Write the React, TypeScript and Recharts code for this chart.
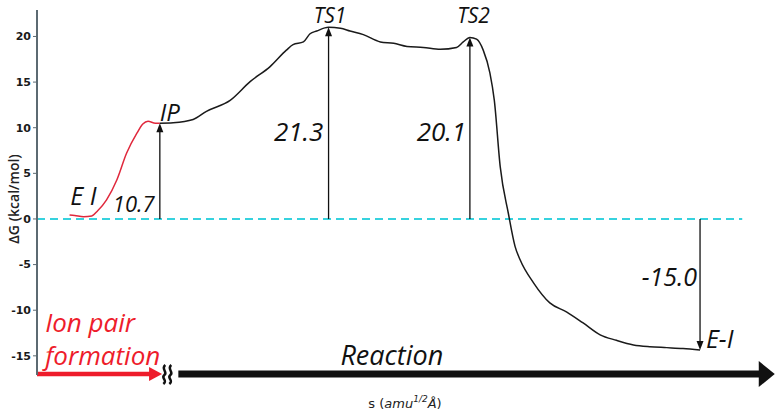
import {
  ComposedChart,
  Line,
  XAxis,
  YAxis,
  ReferenceLine,
  ReferenceDot,
  Label
} from 'recharts'

// reaction coordinate s (arbitrary units, 0..100) and ΔG in kcal/mol
const ionPairS = [4.4, 5.1, 6.3, 7.4, 8.2, 9.4, 10.8, 12.1, 13.5, 14.3, 15.0, 16.0, 16.6]
const ionPairG = [0.44, 0.38, 0.25, 0.33, 0.9, 2.1, 4.3, 7.2, 9.4, 10.4, 10.7, 10.5, 10.5]

const reactionS = [
  16.6, 18.4, 21.1, 22.9, 26.1, 28.8, 31.5, 33.7, 34.6, 36.0, 36.9, 37.8, 39.4, 41.0,
  42.3, 44.1, 46.4, 48.2, 50.0, 52.2, 54.5, 56.7, 57.6, 58.5, 59.4, 60.3, 61.2, 61.8,
  62.6, 63.7, 64.6, 65.3, 67.1, 69.3, 71.6, 73.8, 76.1, 78.3, 80.6, 82.8, 85.1, 87.3, 89.6
]
const reactionG = [
  10.5, 10.55, 10.9, 11.8, 13.0, 15.05, 16.7, 18.5, 19.1, 19.4, 20.3, 20.6, 21.0, 20.9,
  20.6, 20.2, 19.4, 19.25, 18.9, 18.8, 18.6, 18.8, 19.4, 19.9, 19.7, 18.5, 16.0, 13.0,
  5.7, 0.6, -3.0, -4.5, -7.0, -9.2, -10.2, -11.4, -12.7, -13.3, -13.8, -14.0, -14.1, -14.2, -14.35
]

const yTicks = [-15, -10, -5, 0, 5, 10, 15, 20]

// energy arrows from the zero line to each stationary point
const arrowS = [16.6, 39.4, 58.5, 89.6]
const arrowG = [10.5, 21.0, 19.9, -14.35]
const arrowLabels = ['10.7', '21.3', '20.1', '-15.0']

const stateLabels = ['E I', 'IP', 'TS1', 'TS2', 'E-I']

const ionPairData = ionPairS.map((s, i) => ({ s, g: ionPairG[i] }))
const reactionData = reactionS.map((s, i) => ({ s, g: reactionG[i] }))

const FONT = '"Open Sans", sans-serif'
const RED = '#ee1c2b'

// where the text sits (s, ΔG of baseline), anchor, size
const stateLabelPos = [
  { s: 4.5, g: 1.5, anchor: 'start', size: 25 },
  { s: 16.6, g: 10.7, anchor: 'start', size: 24 },
  { s: 39.6, g: 21.5, anchor: 'middle', size: 21 },
  { s: 59.0, g: 21.5, anchor: 'middle', size: 21 },
  { s: 90.4, g: -14.15, anchor: 'start', size: 25 }
]
const arrowLabelPos = [
  { s: 15.9, g: 0.8, size: 22 },
  { s: 38.7, g: 8.5, size: 26 },
  { s: 58.0, g: 8.5, size: 26 },
  { s: 89.2, g: -7.4, size: 25 }
]

function VArrow(props: any) {
  const { x1, y1, x2, y2 } = props
  const d = y2 < y1 ? 1 : -1
  return (
    <g>
      <line x1={x1} y1={y1} x2={x2} y2={y2 + d * 6} stroke="#111" strokeWidth={1.3} />
      <polygon
        points={`${x2},${y2} ${x2 - 3.5},${y2 + d * 9} ${x2 + 3.5},${y2 + d * 9}`}
        fill="#111"
      />
    </g>
  )
}

function RedArrow(props: any) {
  const { x1, y1, x2 } = props
  return (
    <g>
      <line x1={x1} y1={y1} x2={x2 - 10} y2={y1} stroke={RED} strokeWidth={4.5} />
      <polygon points={`${x2},${y1} ${x2 - 13},${y1 - 7} ${x2 - 13},${y1 + 7}`} fill={RED} />
    </g>
  )
}

function BlackArrow(props: any) {
  const { x1, y1, x2 } = props
  const squiggle = (x: number) =>
    `M${x + 2},${y1 - 9} C${x - 3},${y1 - 5} ${x + 5},${y1 - 2} ${x + 1},${y1 + 1} ` +
    `C${x - 3},${y1 + 4} ${x + 5},${y1 + 6} ${x},${y1 + 10}`
  return (
    <g>
      <path d={squiggle(x1 - 15)} stroke="#111" strokeWidth={2.5} fill="none" />
      <path d={squiggle(x1 - 9)} stroke="#111" strokeWidth={2.5} fill="none" />
      <line x1={x1} y1={y1} x2={x2 - 12} y2={y1} stroke="#111" strokeWidth={7} />
      <polygon points={`${x2},${y1} ${x2 - 16},${y1 - 13} ${x2 - 16},${y1 + 13}`} fill="#111" />
    </g>
  )
}

function textShape(text: string, anchor: string, size: number, color = '#111') {
  return (p: any) => (
    <text
      x={p.cx}
      y={p.cy}
      textAnchor={anchor}
      fontFamily={FONT}
      fontStyle="italic"
      fontSize={size}
      fill={color}
    >
      {text}
    </text>
  )
}

function XLabel(props: any) {
  const { x, y, width } = props.viewBox
  return (
    <text
      x={x + width / 2 - 2}
      y={y + 33}
      textAnchor="middle"
      fontFamily='"DejaVu Sans", sans-serif'
      fontSize={13}
      fill="#222"
    >
      s (<tspan fontStyle="italic">amu</tspan>
      <tspan fontSize={9} dy={-6} fontStyle="italic">1/2</tspan>
      <tspan dy={6} fontStyle="italic">Å</tspan>)
    </text>
  )
}

function YLabel() {
  return (
    <text
      x={13}
      y={199}
      transform="rotate(-90 13 199)"
      textAnchor="middle"
      dominantBaseline="central"
      fontFamily='"Open Sans", sans-serif'
      fontSize={14}
      fontWeight={600}
      fill="#222"
    >
      ΔG (kcal/mol)
    </text>
  )
}

export default function App() {
  return (
    <div style={{ position: 'absolute', left: 0, top: 0, background: '#fff' }}>
      <ComposedChart width={779} height={414} margin={{ top: 10, right: 2, bottom: 0, left: 0 }}>
        <XAxis
          dataKey="s"
          type="number"
          domain={[0, 100]}
          allowDataOverflow
          axisLine={false}
          tick={false}
          tickLine={false}
          height={39}
        >
          <Label content={<XLabel />} />
        </XAxis>
        <YAxis
          type="number"
          domain={[-17.1, 22.9]}
          ticks={yTicks}
          allowDataOverflow
          width={37}
          axisLine={{ stroke: '#5c6a72', strokeWidth: 2 }}
          tickLine={{ stroke: '#5c6a72' }}
          tickSize={4}
          tick={{ fontSize: 11, fontWeight: 700, fill: '#1a1a1a', fontFamily: '"DejaVu Sans", sans-serif' }}
        >
          <Label content={<YLabel />} />
        </YAxis>

        <ReferenceLine
          segment={[{ x: 0, y: 0 }, { x: 95.3, y: 0 }]}
          stroke="#36d2de"
          strokeWidth={2}
          strokeDasharray="8 5"
        />

        {arrowS.map((s, i) => (
          <ReferenceLine
            key={'a' + i}
            segment={[{ x: s, y: 0 }, { x: s, y: arrowG[i] }]}
            shape={<VArrow />}
          />
        ))}

        <ReferenceLine segment={[{ x: 0, y: -17.0 }, { x: 16.9, y: -17.0 }]} shape={<RedArrow />} />
        <ReferenceLine segment={[{ x: 19.1, y: -17.0 }, { x: 99.7, y: -17.0 }]} shape={<BlackArrow />} />

        <Line
          data={ionPairData}
          dataKey="g"
          type="monotone"
          stroke="#e0283c"
          strokeWidth={1.5}
          dot={false}
          isAnimationActive={false}
        />
        <Line
          data={reactionData}
          dataKey="g"
          type="monotone"
          stroke="#1a1a1a"
          strokeWidth={1.5}
          dot={false}
          isAnimationActive={false}
        />

        {stateLabels.map((t, i) => (
          <ReferenceDot
            key={'s' + i}
            x={stateLabelPos[i].s}
            y={stateLabelPos[i].g}
            r={0}
            shape={textShape(t, stateLabelPos[i].anchor, stateLabelPos[i].size)}
          />
        ))}
        {arrowLabels.map((t, i) => (
          <ReferenceDot
            key={'v' + i}
            x={arrowLabelPos[i].s}
            y={arrowLabelPos[i].g}
            r={0}
            shape={textShape(t, 'end', arrowLabelPos[i].size)}
          />
        ))}
        <ReferenceDot x={1.1} y={-12.4} r={0} shape={textShape('Ion pair', 'start', 26, RED)} />
        <ReferenceDot x={1.1} y={-16.0} r={0} shape={textShape('formation', 'start', 26, RED)} />
        <ReferenceDot x={41.0} y={-16.0} r={0} shape={textShape('Reaction', 'start', 27)} />
      </ComposedChart>
    </div>
  )
}
